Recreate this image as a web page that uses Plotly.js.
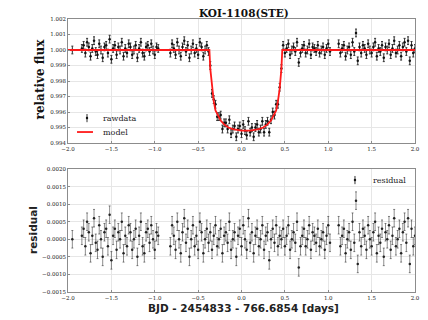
<!DOCTYPE html>
<html>
<head>
<meta charset="utf-8">
<script src="https://cdn.plot.ly/plotly-3.0.1.min.js"></script>
<style>
  html, body { margin: 0; padding: 0; background: #fff; }
  #chart { width: 428px; height: 320px; }
</style>
</head>
<body>
<div id="chart"></div>
<script>
// Observation times (days from mid-transit reference)
const time = [
  -1.95,
  -1.84, -1.82, -1.80, -1.78, -1.76, -1.74, -1.72, -1.70, -1.68, -1.66,
  -1.64, -1.62, -1.60, -1.58, -1.56, -1.54, -1.52, -1.50, -1.48, -1.46,
  -1.44, -1.42, -1.40, -1.38, -1.36, -1.34, -1.32, -1.30, -1.28, -1.26,
  -1.24, -1.22, -1.20, -1.18, -1.16, -1.14, -1.12, -1.10, -1.08, -1.06,
  -1.04, -1.02, -1.00, -0.98, -0.96,
  -0.82, -0.80, -0.78, -0.76, -0.74, -0.72, -0.70, -0.68, -0.66, -0.64,
  -0.62, -0.60, -0.58, -0.56, -0.54, -0.52, -0.50, -0.48, -0.46, -0.44,
  -0.42, -0.40, -0.38,
  -0.36, -0.34, -0.32, -0.30, -0.28, -0.26, -0.24, -0.22, -0.20, -0.18,
  -0.16, -0.14, -0.12, -0.10, -0.08, -0.06, -0.04, -0.02, 0.00, 0.02,
  0.04, 0.06, 0.08, 0.10, 0.12, 0.14, 0.16, 0.18, 0.20, 0.22,
  0.24, 0.26, 0.28, 0.30, 0.32, 0.34, 0.36, 0.38, 0.40, 0.42,
  0.44, 0.46,
  0.48, 0.50, 0.52, 0.54, 0.56, 0.58, 0.60, 0.62, 0.64, 0.66,
  0.68, 0.70, 0.72, 0.74, 0.76, 0.78, 0.80, 0.82, 0.84, 0.86,
  0.88, 0.90, 0.92, 0.94, 0.96, 0.98, 1.00, 1.02,
  1.12, 1.14, 1.16, 1.18, 1.20, 1.22, 1.24, 1.26, 1.28, 1.30,
  1.32, 1.34, 1.36, 1.38, 1.40, 1.42, 1.44, 1.46, 1.48, 1.50,
  1.52, 1.54, 1.56, 1.58, 1.60, 1.62, 1.64, 1.66, 1.68, 1.70,
  1.72, 1.74, 1.76, 1.78, 1.80, 1.82, 1.84, 1.86, 1.88, 1.90,
  1.92, 1.94, 1.96, 1.98, 2.00
];

// Normalised flux of the raw light curve
const flux = [
  1.0000,
  1.0001, 1.0003, 0.9998, 1.0005, 1.0002, 0.9996, 1.0001, 1.0006, 0.9999, 0.9997,
  1.0004, 1.0000, 0.9995, 1.0002, 1.0003, 0.9998, 1.0007, 0.9994, 1.0001, 1.0003,
  0.9997, 1.0002, 1.0000, 1.0005, 0.9996, 1.0001, 0.9998, 1.0004, 1.0002, 0.9997,
  1.0000, 1.0003, 0.9995, 1.0001, 1.0005, 0.9998, 0.9996, 1.0002, 1.0003, 0.9999,
  1.0004, 1.0000, 0.9997, 1.0002, 1.0001,
  0.9998, 1.0004, 1.0001, 0.9997, 1.0005, 1.0000, 0.9996, 1.0002, 1.0006, 0.9999,
  1.0003, 0.9995, 1.0000, 1.0004, 0.9998, 1.0001, 0.9997, 1.0005, 1.0002, 0.9996,
  1.0000, 1.0003, 0.9999,
  0.99900, 0.99720, 0.99680, 0.99650, 0.99570, 0.99570, 0.99580, 0.99490, 0.99530, 0.99530,
  0.99490, 0.99550, 0.99460, 0.99490, 0.99510, 0.99440, 0.99490, 0.99510, 0.99460, 0.99520,
  0.99480, 0.99450, 0.99540, 0.99470, 0.99500, 0.99440, 0.99500, 0.99520, 0.99470, 0.99490,
  0.99540, 0.99470, 0.99520, 0.99540, 0.99470, 0.99550, 0.99600, 0.99580, 0.99650, 0.99650,
  0.99760, 0.99880,
  1.0003, 0.9998, 1.0001, 1.0004, 0.9997, 1.0000, 1.0002, 0.9999, 1.0005, 0.9992,
  0.9998, 1.0001, 1.0003, 0.9998, 1.0000, 1.0004, 0.9997, 1.0002, 1.0001, 0.9999,
  1.0003, 0.9998, 1.0000, 1.0002, 0.9997, 1.0001, 1.0004, 0.9999,
  1.0004, 0.9998, 1.0001, 1.0003, 0.9996, 1.0000, 1.0002, 0.9997, 1.0005, 0.9999,
  1.0011, 0.9993, 1.0002, 0.9998, 1.0003, 1.0001, 0.9997, 1.0004, 1.0000, 0.9998,
  1.0002, 1.0005, 0.9996, 1.0001, 0.9999, 1.0003, 0.9995, 1.0002, 1.0000, 1.0004,
  0.9997, 1.0001, 1.0006, 0.9998, 1.0000, 1.0003, 0.9996, 1.0002, 1.0005, 0.9999,
  1.0006, 0.9993, 1.0003, 0.9998, 1.0001
];

// Flux minus transit model
const resid = [
  0.0000,
  0.0001, 0.0003, -0.0002, 0.0005, 0.0002, -0.0004, 0.0001, 0.0006, -0.0001, -0.0003,
  0.0004, 0.0000, -0.0005, 0.0002, 0.0003, -0.0002, 0.0007, -0.0006, 0.0001, 0.0003,
  -0.0003, 0.0002, 0.0000, 0.0005, -0.0004, 0.0001, -0.0002, 0.0004, 0.0002, -0.0003,
  0.0000, 0.0003, -0.0005, 0.0001, 0.0005, -0.0002, -0.0004, 0.0002, 0.0003, -0.0001,
  0.0004, 0.0000, -0.0003, 0.0002, 0.0001,
  -0.0002, 0.0004, 0.0001, -0.0003, 0.0005, 0.0000, -0.0004, 0.0002, 0.0006, -0.0001,
  0.0003, -0.0005, 0.0000, 0.0004, -0.0002, 0.0001, -0.0003, 0.0005, 0.0002, -0.0004,
  0.0000, 0.0003, -0.0001,
  0.0002, -0.0003, 0.0001, 0.0004, -0.0002, 0.0000, 0.0003, -0.0004, 0.0001, 0.0002,
  -0.0001, 0.0005, -0.0003, 0.0000, 0.0002, -0.0005, 0.0001, 0.0003, -0.0002, 0.0004,
  0.0000, -0.0003, 0.0006, -0.0001, 0.0002, -0.0004, 0.0001, 0.0003, -0.0002, 0.0000,
  0.0004, -0.0003, 0.0001, 0.0002, -0.0006, 0.0000, 0.0003, -0.0001, 0.0004, -0.0002,
  0.0001, 0.0000,
  0.0003, -0.0002, 0.0001, 0.0004, -0.0003, 0.0000, 0.0002, -0.0001, 0.0005, -0.0008,
  -0.0002, 0.0001, 0.0003, -0.0002, 0.0000, 0.0004, -0.0003, 0.0002, 0.0001, -0.0001,
  0.0003, -0.0002, 0.0000, 0.0002, -0.0003, 0.0001, 0.0004, -0.0001,
  0.0004, -0.0002, 0.0001, 0.0003, -0.0004, 0.0000, 0.0002, -0.0003, 0.0005, -0.0001,
  0.0011, -0.0007, 0.0002, -0.0002, 0.0003, 0.0001, -0.0003, 0.0004, 0.0000, -0.0002,
  0.0002, 0.0005, -0.0004, 0.0001, -0.0001, 0.0003, -0.0005, 0.0002, 0.0000, 0.0004,
  -0.0003, 0.0001, 0.0006, -0.0002, 0.0000, 0.0003, -0.0004, 0.0002, 0.0005, -0.0001,
  0.0006, -0.0007, 0.0003, -0.0002, 0.0001
];

// Per-point photometric uncertainty
const fluxErr = 0.00025;

// Best-fit transit model
const modelTime = [
  -2.00, -0.37, -0.36, -0.34, -0.32, -0.30, -0.27, -0.24, -0.20, -0.15,
  -0.10, -0.05, 0.00, 0.05, 0.10, 0.15, 0.20, 0.25, 0.30, 0.34,
  0.37, 0.40, 0.42, 0.44, 0.46, 0.47, 2.00
];
const modelFlux = [
  1.0000, 1.0000, 0.9988, 0.9975, 0.9967, 0.9961, 0.9958, 0.99545, 0.9952, 0.9950,
  0.9949, 0.99485, 0.9948, 0.9948, 0.9948, 0.99485, 0.9949, 0.9950, 0.9952, 0.99545,
  0.9958, 0.9961, 0.9967, 0.9975, 0.9988, 1.0000, 1.0000
];

const xTicks = [-2.0, -1.5, -1.0, -0.5, 0.0, 0.5, 1.0, 1.5, 2.0];
const fluxTicks = [0.994, 0.995, 0.996, 0.997, 0.998, 0.999, 1.000, 1.001, 1.002];
const residTicks = [-0.0015, -0.0010, -0.0005, 0.0000, 0.0005, 0.0010, 0.0015, 0.0020];

const serif = 'DejaVu Serif, serif';
const sans = 'DejaVu Sans, sans-serif';
const tickFont = { family: serif, size: 5.5, color: '#222' };
const legendFont = { family: serif, size: 8, color: '#222' };
const red = '#ff1a1a';

const traces = [
  {
    x: time, y: flux, type: 'scatter', mode: 'markers', name: 'rawdata',
    xaxis: 'x', yaxis: 'y',
    marker: { color: '#111', size: 2.5 },
    error_y: { type: 'constant', value: fluxErr, color: '#333', thickness: 1, width: 1 }
  },
  {
    x: modelTime, y: modelFlux, type: 'scatter', mode: 'lines', name: 'model',
    xaxis: 'x', yaxis: 'y',
    line: { color: red, width: 1.8 }
  },
  {
    x: time, y: resid, type: 'scatter', mode: 'markers', name: 'residual',
    xaxis: 'x2', yaxis: 'y2',
    marker: { color: '#222', size: 2.5 },
    error_y: { type: 'constant', value: fluxErr, color: 'rgba(0,0,0,0.45)', thickness: 1, width: 1 }
  }
];

const axisCommon = {
  range: [-2, 2],
  tickvals: xTicks,
  ticktext: xTicks.map(v => v.toFixed(1).replace('-', '\u2212')),
  showgrid: true, gridcolor: '#e6e6e6', gridwidth: 1,
  zeroline: false,
  showline: true, linecolor: '#8c8c8c', linewidth: 1, mirror: true,
  ticks: 'inside', ticklen: 2, tickcolor: '#8c8c8c',
  tickfont: tickFont
};

// Legend glyphs: an error-bar handle and a line handle, in paper coordinates
function errHandle(x, y) {
  return [
    { type: 'line', xref: 'paper', yref: 'paper', x0: x, x1: x, y0: y - 0.015, y1: y + 0.015,
      line: { color: '#333', width: 1 } },
    { type: 'circle', xref: 'paper', yref: 'paper', x0: x - 0.0035, x1: x + 0.0035,
      y0: y - 0.0045, y1: y + 0.0045, fillcolor: '#111', line: { width: 0 } }
  ];
}
function legendText(text, x, y) {
  return { text: text, xref: 'paper', yref: 'paper', x: x, y: y, xanchor: 'left', yanchor: 'middle',
           showarrow: false, borderpad: 0, font: legendFont };
}

const layout = {
  width: 428, height: 320,
  margin: { l: 68, r: 13, t: 19, b: 28 },
  paper_bgcolor: '#fff', plot_bgcolor: '#fff',
  showlegend: false,
  xaxis: Object.assign({}, axisCommon, { anchor: 'y', domain: [0, 1] }),
  xaxis2: Object.assign({}, axisCommon, { anchor: 'y2', domain: [0, 1] }),
  yaxis: {
    domain: [0.5458, 1], range: [0.994, 1.002],
    tickvals: fluxTicks, ticktext: fluxTicks.map(v => v.toFixed(3)),
    showgrid: true, gridcolor: '#e6e6e6', zeroline: false,
    showline: true, linecolor: '#8c8c8c', linewidth: 1, mirror: true,
    ticks: 'inside', ticklen: 2, tickcolor: '#8c8c8c', tickfont: tickFont
  },
  yaxis2: {
    domain: [0, 0.4505], range: [-0.0015, 0.0020], anchor: 'x2',
    tickvals: residTicks, ticktext: residTicks.map(v => v.toFixed(4).replace('-', '\u2212')),
    showgrid: true, gridcolor: '#e6e6e6', zeroline: false,
    showline: true, linecolor: '#8c8c8c', linewidth: 1, mirror: true,
    ticks: 'inside', ticklen: 2, tickcolor: '#8c8c8c', tickfont: tickFont
  },
  shapes: [].concat(
    errHandle(0.0548, 0.637),
    [{ type: 'line', xref: 'paper', yref: 'paper', x0: 0.026, x1: 0.072, y0: 0.586, y1: 0.586,
       line: { color: red, width: 1.8 } }],
    errHandle(0.827, 0.410)
  ),
  annotations: [
    legendText('rawdata', 0.098, 0.637),
    legendText('model', 0.098, 0.586),
    legendText('residual', 0.876, 0.408),
    { text: '<b>KOI-1108(STE)</b>', xref: 'paper', yref: 'paper', x: 0.506, y: 1.022,
      xanchor: 'center', yanchor: 'middle', showarrow: false,
      font: { family: serif, size: 10.5, color: '#111' } },
    { text: '<b>relative flux</b>', xref: 'paper', yref: 'paper', x: -0.081, y: 0.782,
      xanchor: 'center', yanchor: 'middle', showarrow: false, textangle: -90,
      font: { family: serif, size: 12, color: '#111' } },
    { text: '<b>residual</b>', xref: 'paper', yref: 'paper', x: -0.101, y: 0.227,
      xanchor: 'center', yanchor: 'middle', showarrow: false, textangle: -90,
      font: { family: sans, size: 10.5, color: '#222' } },
    { text: '<b>BJD - 2454833 - 766.6854 [days]</b>', xref: 'paper', yref: 'paper', x: 0.506, y: -0.058,
      xanchor: 'center', yanchor: 'middle', showarrow: false,
      font: { family: sans, size: 10.5, color: '#222' } }
  ]
};

Plotly.newPlot('chart', traces, layout, { staticPlot: true, displayModeBar: false });
</script>
</body>
</html>
